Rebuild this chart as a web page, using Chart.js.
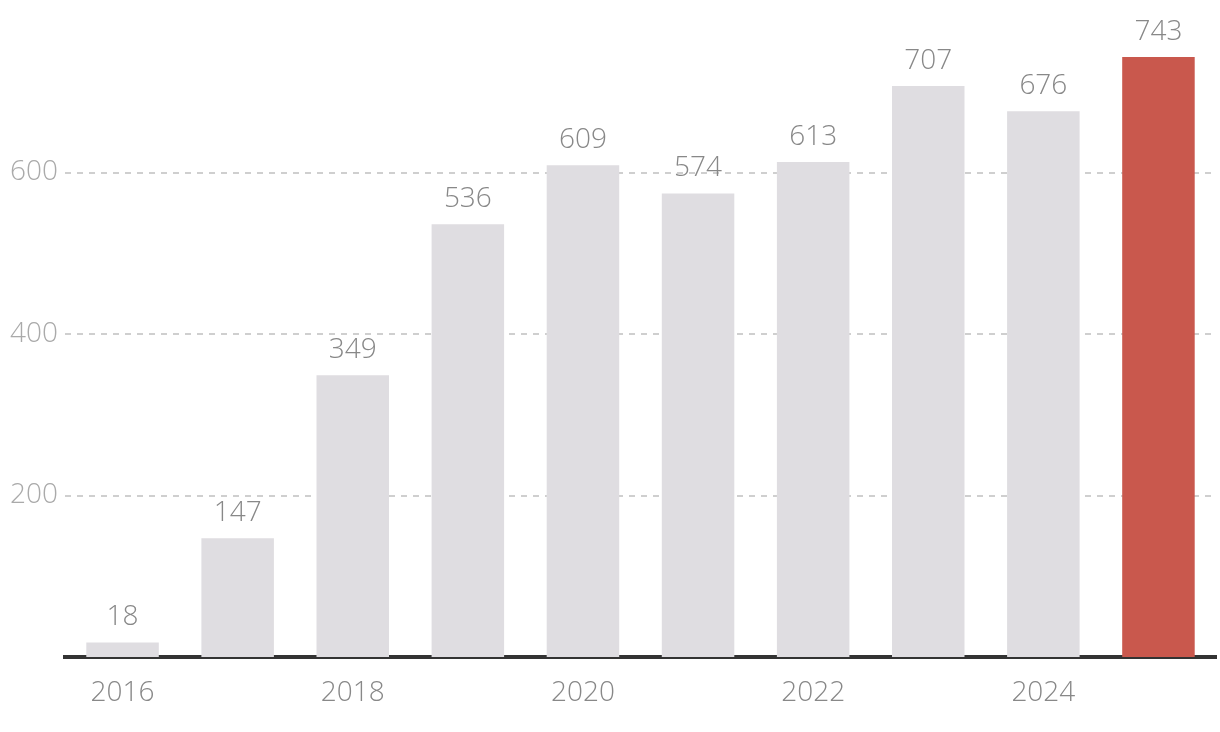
<!DOCTYPE html>
<html>
<head>
<meta charset="utf-8">
<script src="https://cdn.jsdelivr.net/npm/chart.js"></script>
<style>
  html, body { margin: 0; padding: 0; background: #fff; }
  #wrap { width: 1220px; height: 732px; }
</style>
</head>
<body>
<div id="wrap"><canvas id="chart" width="1220" height="732"></canvas></div>
<script>
const years = ['2016', '2017', '2018', '2019', '2020', '2021', '2022', '2023', '2024', '2025'];
const counts = [18, 147, 349, 536, 609, 574, 613, 707, 676, 743];
const yTicks = [200, 400, 600];

const barColors = years.map((y, i) => i === years.length - 1 ? '#c9584d' : '#dfdde1');
const FONT = '"Open Sans", "Noto Sans", sans-serif';

// numbers above each bar
const valueLabels = {
  id: 'valueLabels',
  afterDatasetsDraw(chart) {
    const ctx = chart.ctx;
    const meta = chart.getDatasetMeta(0);
    ctx.save();
    ctx.font = '300 28px ' + FONT;
    ctx.fillStyle = '#888888';
    ctx.textAlign = 'center';
    ctx.textBaseline = 'alphabetic';
    meta.data.forEach((bar, i) => {
      ctx.fillText(String(counts[i]), bar.x, bar.y - 17);
    });
    ctx.restore();
  }
};

new Chart(document.getElementById('chart'), {
  type: 'bar',
  data: {
    labels: years,
    datasets: [{
      data: counts,
      backgroundColor: barColors,
      barPercentage: 0.63,
      categoryPercentage: 1
    }]
  },
  options: {
    responsive: false,
    animation: false,
    layout: { padding: { top: 11, left: 10, right: 4, bottom: 0 } },
    plugins: { legend: { display: false }, tooltip: { enabled: false } },
    scales: {
      x: {
        grid: { display: false, drawTicks: false },
        border: { display: true, color: '#333333', width: 4 },
        ticks: {
          autoSkip: false,
          maxRotation: 0,
          padding: 19,
          color: '#888888',
          font: { family: FONT, size: 28, weight: 300 },
          callback: (v, i) => i % 2 === 0 ? years[i] : ''
        },
        afterFit: s => { s.height = 75; }
      },
      y: {
        min: 0,
        max: 800,
        afterBuildTicks: s => { s.ticks = yTicks.map(v => ({ value: v })); },
        grid: { color: '#cfcfcf', lineWidth: 2, drawTicks: false },
        border: { display: false, dash: [6, 6] },
        ticks: {
          crossAlign: 'far',
          padding: 8,
          color: '#aaaaaa',
          font: { family: FONT, size: 28, weight: 300 }
        },
        afterFit: s => {
          s.width = 55;
          s.paddingTop = 0;
          s.paddingBottom = 0;
        }
      }
    }
  },
  plugins: [valueLabels]
});
</script>
</body>
</html>
